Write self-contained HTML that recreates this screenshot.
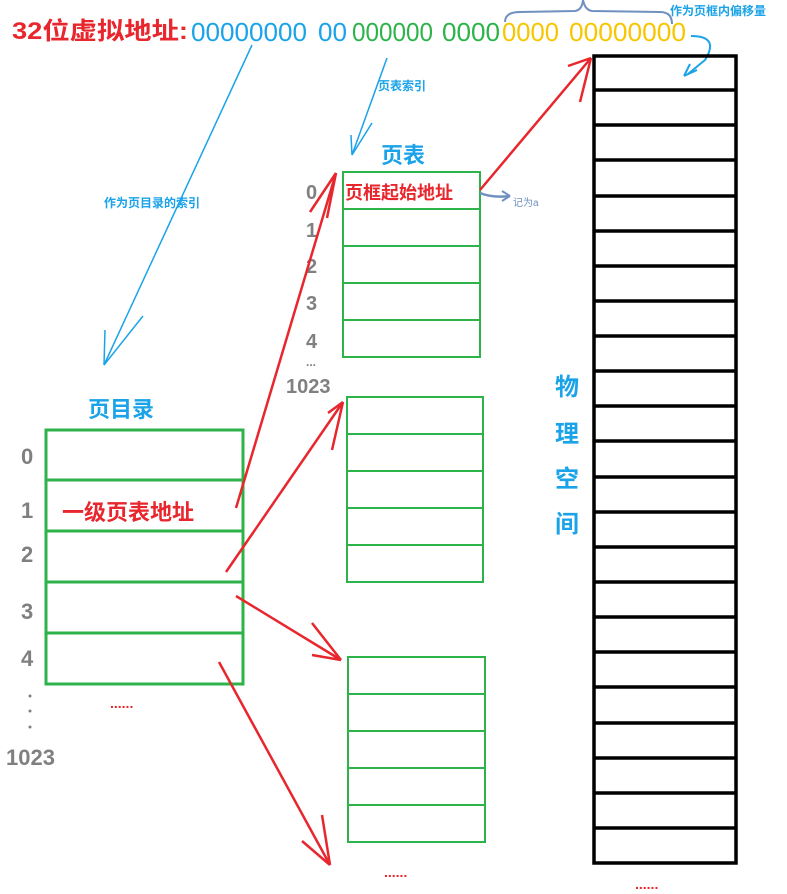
<!DOCTYPE html>
<html><head><meta charset="utf-8"><style>
html,body{margin:0;padding:0;background:#fff;}
svg{display:block;}
text{font-family:"Liberation Sans","Noto Sans CJK SC",sans-serif;}
</style></head><body>
<svg width="787" height="894" viewBox="0 0 787 894" xmlns="http://www.w3.org/2000/svg">
<!-- top text -->
<text x="12" y="39" font-size="24" font-weight="bold" fill="#e8262d" textLength="176" lengthAdjust="spacingAndGlyphs">32位虚拟地址:</text>
<g font-size="26">
<text x="191" y="41" fill="#1aa3e8" textLength="116" lengthAdjust="spacingAndGlyphs">00000000</text>
<text x="318" y="41" fill="#1aa3e8" textLength="29" lengthAdjust="spacingAndGlyphs">00</text>
<text x="352" y="41" fill="#2db34a" textLength="81" lengthAdjust="spacingAndGlyphs">000000</text>
<text x="442" y="41" fill="#2db34a" textLength="58" lengthAdjust="spacingAndGlyphs">0000</text>
<text x="502" y="41" fill="#f7c600" textLength="57" lengthAdjust="spacingAndGlyphs">0000</text>
<text x="569" y="41" fill="#f7c600" textLength="117" lengthAdjust="spacingAndGlyphs">00000000</text>
</g>
<!-- brace -->
<path d="M505,22 Q505,12 520,12 L575,11 Q582,10 583,0 M583,0 Q585,10 592,11 L660,12 Q672,12 672,24" fill="none" stroke="#7090c0" stroke-width="2"/>
<text x="670" y="15" font-size="12" font-weight="bold" fill="#1aa3e8">作为页框内偏移量</text>
<!-- blue curve to physical -->
<path d="M691,36 Q720,36 705,60 L688,74" fill="none" stroke="#1aa3e8" stroke-width="2"/>
<path d="M684,76 L690,64 M684,76 L697,70" stroke="#1aa3e8" stroke-width="2"/>
<!-- blue arrows -->
<line x1="252" y1="45" x2="104" y2="365" stroke="#1aa3e8" stroke-width="1.5"/>
<path d="M104,365 L105,330 M104,365 L143,316" stroke="#1aa3e8" stroke-width="1.5" fill="none"/>
<text x="104" y="207" font-size="12" font-weight="bold" fill="#1aa3e8">作为页目录的索引</text>
<line x1="387" y1="58" x2="352" y2="155" stroke="#1aa3e8" stroke-width="1.5"/>
<path d="M352,155 L351,135 M352,155 L372,123" stroke="#1aa3e8" stroke-width="1.5" fill="none"/>
<text x="378" y="90" font-size="12" font-weight="bold" fill="#1aa3e8">页表索引</text>
<!-- page directory -->
<text x="88" y="417" font-size="22" font-weight="bold" fill="#1aa3e8">页目录</text>
<rect x="46" y="430" width="197" height="254" fill="none" stroke="#2db34a" stroke-width="3"/>
<path d="M46,480H243M46,531H243M46,582H243M46,633H243" stroke="#2db34a" stroke-width="3"/>
<text x="62" y="520" font-size="22" font-weight="bold" fill="#e8262d">一级页表地址</text>
<g font-size="22" fill="#808080" font-weight="bold">
<text x="21" y="464">0</text><text x="21" y="518">1</text><text x="21" y="562">2</text><text x="21" y="619">3</text><text x="21" y="666">4</text>
<text x="6" y="765">1023</text>
</g>
<circle cx="30" cy="696" r="1.5" fill="#808080"/><circle cx="30" cy="711" r="1.5" fill="#808080"/><circle cx="30" cy="727" r="1.5" fill="#808080"/>
<text x="110" y="708" font-size="14" fill="#e8262d" font-weight="bold">......</text>
<!-- page table 1 -->
<text x="381" y="163" font-size="22" font-weight="bold" fill="#1aa3e8">页表</text>
<rect x="343" y="172" width="137" height="185" fill="none" stroke="#2db34a" stroke-width="2"/>
<path d="M343,209H480M343,246H480M343,283H480M343,320H480" stroke="#2db34a" stroke-width="2"/>
<text x="345" y="199" font-size="18" font-weight="bold" fill="#e8262d">页框起始地址</text>
<g font-size="20" fill="#808080" font-weight="bold">
<text x="306" y="199">0</text><text x="306" y="237">1</text><text x="306" y="273">2</text><text x="306" y="310">3</text><text x="306" y="348">4</text>
<text x="286" y="393">1023</text>
</g>
<text x="306" y="366" font-size="12" fill="#808080" font-weight="bold">...</text>
<path d="M480,193 Q492,198 510,196" stroke="#7090c0" stroke-width="2.5" fill="none"/>
<path d="M510,196 L502,191 M510,196 L502,201" stroke="#7090c0" stroke-width="2"/>
<text x="513" y="206" font-size="10" fill="#7090c0">记为a</text>
<!-- table 2 & 3 -->
<rect x="347" y="397" width="136" height="185" fill="none" stroke="#2db34a" stroke-width="2"/>
<path d="M347,434H483M347,471H483M347,508H483M347,545H483" stroke="#2db34a" stroke-width="2"/>
<rect x="348" y="657" width="137" height="185" fill="none" stroke="#2db34a" stroke-width="2"/>
<path d="M348,694H485M348,731H485M348,768H485M348,805H485" stroke="#2db34a" stroke-width="2"/>
<text x="384" y="877" font-size="14" fill="#e8262d" font-weight="bold">......</text>
<!-- physical -->
<rect x="594" y="56" width="142" height="807" fill="none" stroke="#000" stroke-width="3.5"/>
<path d="M594,90H736M594,125H736M594,160H736M594,196H736M594,231H736M594,266H736M594,301H736M594,336H736M594,371H736M594,406H736M594,441H736M594,477H736M594,512H736M594,547H736M594,582H736M594,617H736M594,652H736M594,687H736M594,723H736M594,758H736M594,793H736M594,828H736" stroke="#000" stroke-width="3.5"/>
<g font-size="24" font-weight="bold" fill="#1aa3e8">
<text x="555" y="395">物</text><text x="555" y="442">理</text><text x="555" y="487">空</text><text x="555" y="532">间</text>
</g>
<text x="635" y="889" font-size="14" fill="#e8262d" font-weight="bold">......</text>
<!-- red arrows -->
<g stroke="#e8262d" stroke-width="2.5" fill="none">
<line x1="236" y1="508" x2="336" y2="173"/><path d="M336,173 L310,212 M336,173 L327,218"/>
<line x1="226" y1="572" x2="343" y2="402"/><path d="M343,402 L328,413 M343,402 L332,450"/>
<line x1="236" y1="596" x2="341" y2="660"/><path d="M341,660 L312,623 M341,660 L312,655"/>
<line x1="219" y1="662" x2="330" y2="865"/><path d="M330,865 L322,815 M330,865 L302,841"/>
<line x1="480" y1="190" x2="591" y2="58"/><path d="M591,58 L568,66 M591,58 L580,102"/>
</g>
</svg>
</body></html>
